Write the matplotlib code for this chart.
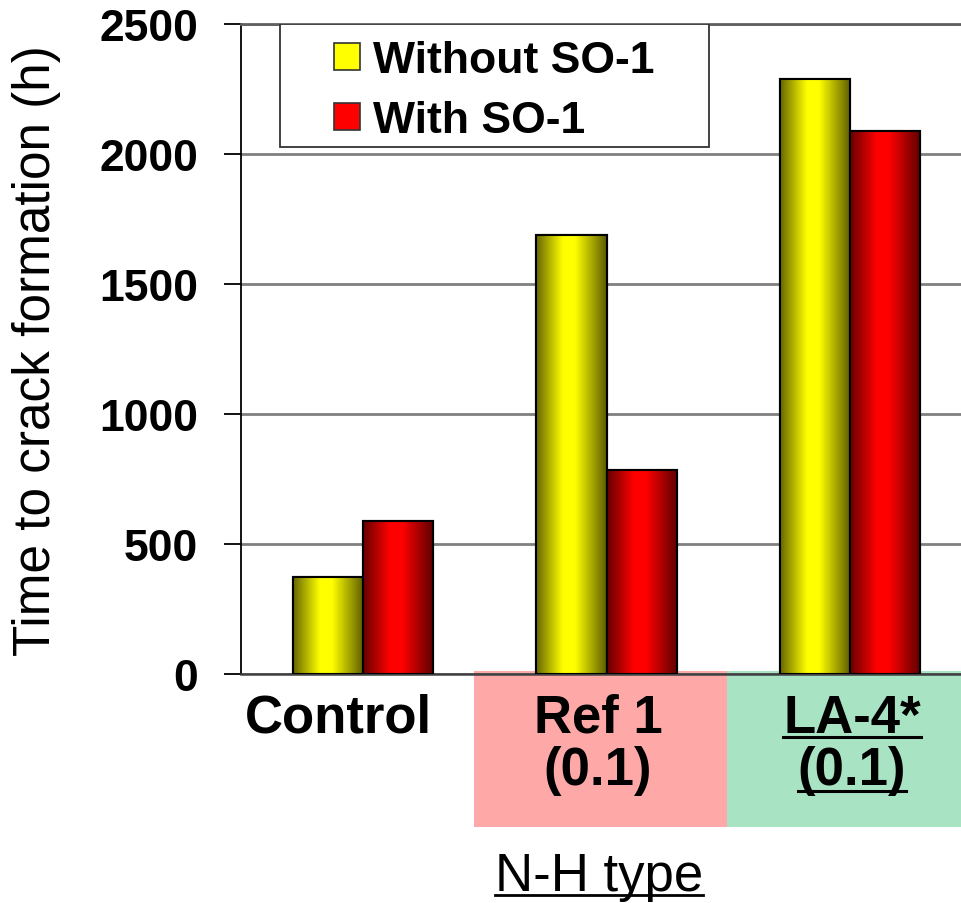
import numpy as np
import matplotlib
matplotlib.use("Agg")
import matplotlib.pyplot as plt
from matplotlib.patches import Rectangle, Patch
from matplotlib.lines import Line2D

plt.rcParams['font.family'] = ['Liberation Sans', 'DejaVu Sans']

# ---- data ----
categories = ["Control", "Ref 1", "LA-4*"]
cat_line1 = ["Control", "Ref 1", "LA-4*"]
cat_line2 = ["", "(0.1)", "(0.1)"]
series_names = ["Without SO-1", "With SO-1"]
without_so1 = [375, 1690, 2290]
with_so1 = [590, 785, 2090]
yticks = [0, 500, 1000, 1500, 2000, 2500]
ylabel = "Time to crack formation (h)"
group_label = "N-H type"

W, H = 961, 904
fig = plt.figure(figsize=(W / 100, H / 100), dpi=100)
fig.patch.set_facecolor('white')

def fx(px):
    return px / W

def fy(py):
    return 1 - py / H

# background boxes under category labels
fig.patches.append(Rectangle((fx(474), fy(828)), fx(727) - fx(474), fy(672) - fy(828),
                             transform=fig.transFigure, facecolor='#ffa8a8', edgecolor='none', zorder=-5))
fig.patches.append(Rectangle((fx(727), fy(828)), fx(961) - fx(727) + 0.01, fy(672) - fy(828),
                             transform=fig.transFigure, facecolor='#a8e4c4', edgecolor='none', zorder=-5))

ax = fig.add_axes([fx(241), fy(675), (972 - 241) / W, 650 / H])
ax.set_facecolor('none')

x = np.arange(len(categories))
bw = 0.2875
base_cols = [(1.0, 1.0, 0.0), (1.0, 0.0, 0.0)]

# shading profile across the bar width (cylinder look)
t = np.linspace(0, 1, 200)
prof = np.interp(t, [0, 0.38, 0.55, 1.0], [0.40, 1.0, 1.0, 0.36])

for si, (vals, col) in enumerate(zip([without_so1, with_so1], base_cols)):
    offs = (si - 0.5) * bw
    bars = ax.bar(x + offs, vals, width=bw, facecolor=col, edgecolor='black', linewidth=1.5, zorder=3)
    for b in bars:
        x0, y0 = b.get_x(), b.get_y()
        w_, h_ = b.get_width(), b.get_height()
        img = np.ones((2, len(t), 3))
        for c in range(3):
            img[:, :, c] = col[c] * prof
        im = ax.imshow(img, extent=[x0, x0 + w_, y0, y0 + h_], aspect='auto', zorder=3.5,
                       interpolation='bilinear')
        im.set_clip_path(b)
        ax.add_patch(Rectangle((x0, y0), w_, h_, facecolor='none', edgecolor='black', lw=1.5, zorder=4))

ax.set_xlim(-0.5, 2.5)
ax.set_ylim(0, 2500)
ax.set_yticks(yticks)
ax.set_yticklabels([str(v) for v in yticks], fontsize=32, fontweight='bold')
ax.set_xticks([])
ax.tick_params(axis='y', direction='out', length=12, width=1.3, pad=19, colors='black')
ax.yaxis.grid(True, color='#808080', linewidth=2, zorder=1)
ax.set_axisbelow(True)
ax.spines['right'].set_visible(False)
ax.spines['top'].set_color('#606060')
ax.spines['top'].set_linewidth(2)
ax.spines['left'].set_color('black')
ax.spines['left'].set_linewidth(1.3)
ax.spines['bottom'].set_color('#404040')
ax.spines['bottom'].set_linewidth(1.8)

# legend frame + legend
lx0, lx1 = (280 - 241) / 731, (709 - 241) / 731
ly0 = (675 - 148) / 650
ax.add_patch(Rectangle((lx0, ly0), lx1 - lx0, 1 - ly0, transform=ax.transAxes,
                       facecolor='white', edgecolor='#333333', lw=1.3, zorder=6))
handles = [Patch(facecolor=c, edgecolor='#333333', lw=1.2) for c in base_cols]
leg = ax.legend(handles, series_names, loc='center',
                bbox_to_anchor=((lx0 + lx1) / 2, (ly0 + 1) / 2 - 0.008),
                frameon=False, prop={'size': 32, 'weight': 'bold'}, handlelength=0.57,
                handleheight=0.55, handletextpad=0.3, labelspacing=0.43, borderpad=0.0)
leg.set_zorder(7)

# y label
fig.text(fx(37), fy(351), ylabel, rotation=90, fontsize=37, ha='center', va='center')

# category labels
cat_cx = [338, 598, 852]
texts_under = []
for i in range(len(categories)):
    t1 = fig.text(fx(cat_cx[i]), fy(733), cat_line1[i], fontsize=38, fontweight='bold',
                  ha='center', va='baseline')
    t2 = None
    if cat_line2[i]:
        t2 = fig.text(fx(cat_cx[i]), fy(785), cat_line2[i], fontsize=38, fontweight='bold',
                      ha='center', va='baseline')
    if i == 2:
        texts_under.append((t1, 5, 2.2))
        texts_under.append((t2, 7, 2.2))

tg = fig.text(fx(599), fy(891), group_label, fontsize=38, ha='center', va='baseline')
texts_under.append((tg, 5, 2.0))

fig.canvas.draw()
r = fig.canvas.get_renderer()
for txt, off, lw in texts_under:
    bb = txt.get_window_extent(r)
    _, by = txt.get_transform().transform(txt.get_position())
    yline = (by - off) / fig.bbox.height
    fig.add_artist(Line2D([bb.x0 / fig.bbox.width, bb.x1 / fig.bbox.width], [yline, yline],
                          transform=fig.transFigure, color='black', lw=lw))

fig.savefig('out.png', dpi=100)
